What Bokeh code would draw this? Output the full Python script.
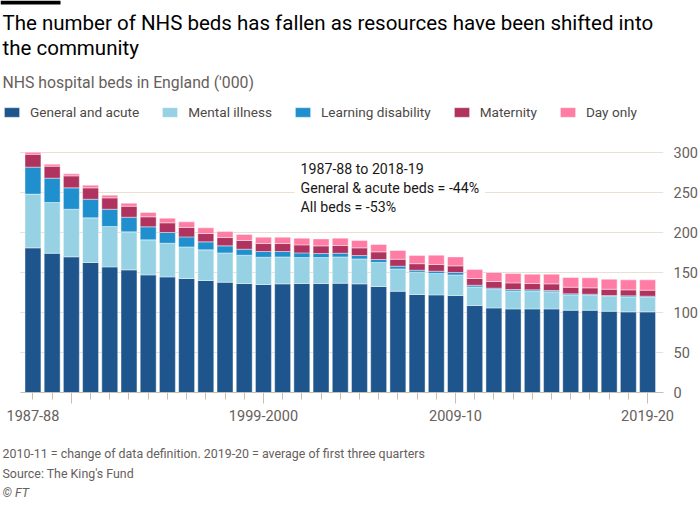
from bokeh.plotting import figure
from bokeh.models import (Range1d, FixedTicker, Label, Legend, LegendItem,
                          ColumnDataSource, Title, LinearAxis, BoxAnnotation)
from bokeh.embed import file_html
from bokeh.resources import INLINE

# ---------------- data (thousands of beds) ----------------
years = ["1987-88", "1988-89", "1989-90", "1990-91", "1991-92", "1992-93",
         "1993-94", "1994-95", "1995-96", "1996-97", "1997-98", "1998-99",
         "1999-2000", "2000-01", "2001-02", "2002-03", "2003-04", "2004-05",
         "2005-06", "2006-07", "2007-08", "2008-09", "2009-10", "2010-11",
         "2011-12", "2012-13", "2013-14", "2014-15", "2015-16", "2016-17",
         "2017-18", "2018-19", "2019-20"]
general_acute = [180.8, 174.1, 169.6, 162.5, 157.0, 153.3, 147.0, 144.5, 142.5,
                 140.0, 137.9, 136.2, 135.0, 135.8, 136.2, 136.2, 136.6, 135.8,
                 132.5, 126.6, 122.5, 122.0, 121.2, 108.7, 105.7, 104.5, 104.5,
                 104.5, 102.9, 102.9, 101.6, 100.8, 100.8]
mental_illness = [67.2, 63.4, 59.5, 55.8, 50.5, 47.5, 43.8, 42.1, 39.5, 38.3,
                  36.6, 35.4, 34.1, 33.7, 32.5, 32.5, 32.9, 31.2, 30.0, 27.9,
                  27.9, 26.7, 25.8, 23.3, 23.0, 22.5, 22.1, 21.3, 19.1, 18.7,
                  18.4, 18.7, 18.3]
learning_disability = [33.7, 30.4, 26.7, 23.3, 21.6, 18.3, 16.3, 13.4, 12.5,
                       10.0, 8.8, 7.5, 7.1, 6.7, 5.8, 5.0, 4.6, 4.2, 3.7, 3.4,
                       2.5, 2.9, 3.0, 2.1, 1.7, 1.7, 1.7, 1.7, 1.3, 1.3, 1.2,
                       1.3, 1.3]
maternity = [16.0, 15.0, 15.0, 14.2, 14.2, 13.8, 12.5, 12.1, 11.8, 10.4, 10.4,
             10.9, 10.0, 10.0, 10.0, 9.6, 9.6, 9.6, 9.6, 8.7, 8.1, 8.4, 8.3,
             8.4, 8.3, 8.3, 7.9, 8.3, 8.3, 7.9, 7.9, 7.5, 7.5]
day_only = [2.5, 2.5, 2.5, 3.3, 3.3, 3.7, 5.4, 5.8, 7.0, 7.1, 7.5, 7.5, 7.9,
            7.9, 8.4, 8.7, 9.2, 9.2, 9.2, 10.9, 10.4, 11.6, 11.2, 11.2, 11.3,
            11.7, 11.7, 12.1, 12.1, 12.5, 12.5, 12.5, 12.9]

series_names = ["General and acute", "Mental illness", "Learning disability",
                "Maternity", "Day only"]
series_colors = ["#1e558c", "#96d2e4", "#1f8fce", "#b0325e", "#ff7da5"]
y_ticks = [0, 50, 100, 150, 200, 250, 300]
x_labels = {0: "1987-88", 12: "1999-2000", 22: "2009-10", 32: "2019-20"}
long_ticks = [2, 12, 22, 32]

title_lines = ["The number of NHS beds has fallen as resources have been shifted into",
               "the community"]
subtitle = "NHS hospital beds in England ('000)"
note_text = "1987-88 to 2018-19\nGeneral & acute beds = -44%\nAll beds = -53%"
footer = ["2010-11 = change of data definition. 2019-20 = average of first three quarters",
          "Source: The King's Fund"]
credit = "\u00a9 FT"

FONT = "Roboto"
GREY = "#66605c"
TICK = "#c9beb4"
GRID = "#e9dfd4"

# plotting window (the frame also hosts the header, which sits above y=300)
X_LO, X_HI = -0.656, 32.83      # extent of the bar area
FRAME_X = (-1.69, 32.83)
FRAME_Y = (0, 490)

keys = ["ga", "mi", "ld", "mat", "day"]
src = ColumnDataSource(dict(x=list(range(len(years))), year=years,
                            ga=general_acute, mi=mental_illness,
                            ld=learning_disability, mat=maternity, day=day_only))

p = figure(width=700, height=505, output_backend="svg", toolbar_location=None,
           x_range=Range1d(*FRAME_X), y_range=Range1d(*FRAME_Y),
           y_axis_location="right",
           min_border_left=0, min_border_right=32,
           min_border_top=0, min_border_bottom=113,
           outline_line_color=None, background_fill_color="white",
           border_fill_color="white")
p.xgrid.visible = False
p.ygrid.visible = False

# horizontal gridlines limited to the bar area
p.segment(x0=X_LO, x1=X_HI, y0=y_ticks, y1=y_ticks, line_color=GRID,
          line_width=1)

renderers = p.vbar_stack(keys, x="x", width=0.83, fill_color=series_colors,
                         line_color="white", line_width=0.6, line_alpha=0.7,
                         source=src)

# ---- y axis (right) ----
yax = p.yaxis[0]
yax.ticker = FixedTicker(ticks=y_ticks)
yax.axis_line_color = None
yax.major_tick_line_color = None
yax.minor_tick_line_color = None
yax.major_label_standoff = 4
yax.major_label_text_font = FONT
yax.major_label_text_font_size = "14.5px"
yax.major_label_text_color = GREY

# ---- x axis: tick marks only ----
xax = p.xaxis[0]
xax.bounds = (X_LO, X_HI)
xax.ticker = FixedTicker(ticks=long_ticks, minor_ticks=list(range(len(years))))
xax.major_label_overrides = {t: "" for t in long_ticks}
xax.axis_line_color = TICK
xax.major_tick_line_color = TICK
xax.minor_tick_line_color = TICK
xax.major_tick_in = 0
xax.major_tick_out = 11
xax.minor_tick_in = 0
xax.minor_tick_out = 7
xax.major_label_standoff = 0
xax.major_label_text_font_size = "1px"

# ---- x axis: category labels ----
lab_ticks = sorted(x_labels)
xlab = LinearAxis(ticker=FixedTicker(ticks=lab_ticks),
                  major_label_overrides={t: x_labels[t] for t in lab_ticks},
                  axis_line_color=None, major_tick_line_color=None,
                  minor_tick_line_color=None, major_tick_in=0, major_tick_out=0,
                  minor_tick_in=0, minor_tick_out=0, major_label_standoff=6,
                  major_label_text_font=FONT, major_label_text_font_size="14.5px",
                  major_label_text_color=GREY)
p.add_layout(xlab, "below")

# blank gap between the axis labels and the notes (white tick, empty label)
gap = LinearAxis(ticker=FixedTicker(ticks=[-1.6]),
                 major_label_overrides={-1.6: ""},
                 axis_line_color=None, major_tick_line_color="white",
                 minor_tick_line_color=None, major_tick_in=0, major_tick_out=19,
                 minor_tick_in=0, minor_tick_out=0, major_label_standoff=0,
                 major_label_text_font_size="1px")
p.add_layout(gap, "below")

# ---- footer ----
p.add_layout(Title(text=footer[0], align="left", offset=2, standoff=2,
                   text_font=FONT, text_font_size="12.4px", text_font_style="normal",
                   text_color=GREY), "below")
p.add_layout(Title(text=footer[1], align="left", offset=2, standoff=3.6,
                   text_font=FONT, text_font_size="12.4px", text_font_style="normal",
                   text_color=GREY), "below")
p.add_layout(Title(text=credit, align="left", offset=2, standoff=0,
                   text_font=FONT, text_font_size="12.4px", text_font_style="italic",
                   text_color=GREY), "below")

# ---- header, inside the frame (screen units from the frame's bottom-left) ----
p.add_layout(BoxAnnotation(left=0, right=60, top=392, bottom=388,
                           left_units="screen", right_units="screen",
                           top_units="screen", bottom_units="screen",
                           fill_color="black", fill_alpha=1, line_color=None))
p.add_layout(Label(x=2, y=369.5, x_units="screen", y_units="screen",
                   text=title_lines[0], text_baseline="middle", text_font=FONT,
                   text_font_size="20.5px", text_color="#000000"))
p.add_layout(Label(x=2, y=345, x_units="screen", y_units="screen",
                   text=title_lines[1], text_baseline="middle", text_font=FONT,
                   text_font_size="20.5px", text_color="#000000"))
p.add_layout(Label(x=2, y=310, x_units="screen", y_units="screen",
                   text=subtitle, text_baseline="middle", text_font=FONT,
                   text_font_size="15.8px", text_color=GREY))

legend = Legend(items=[LegendItem(label=n, renderers=[r])
                       for n, r in zip(series_names, renderers)],
                orientation="horizontal", location=(2, 272),
                glyph_width=19, glyph_height=12, label_standoff=9, spacing=21,
                padding=0, margin=0, border_line_color=None,
                background_fill_alpha=0, label_text_font=FONT,
                label_text_font_size="13.6px", label_text_color="#4d4845")
p.add_layout(legend, "center")

# ---- annotation box inside the plot ----
p.add_layout(Label(x=294, y=238, x_units="screen", y_units="screen",
                   text=note_text, text_align="left", text_baseline="top",
                   text_line_height=1.2, text_font=FONT, text_font_size="14.2px",
                   text_color="#1a1817", background_fill_color="white",
                   padding=6))

open("out.html", "w").write(file_html(p, INLINE))
